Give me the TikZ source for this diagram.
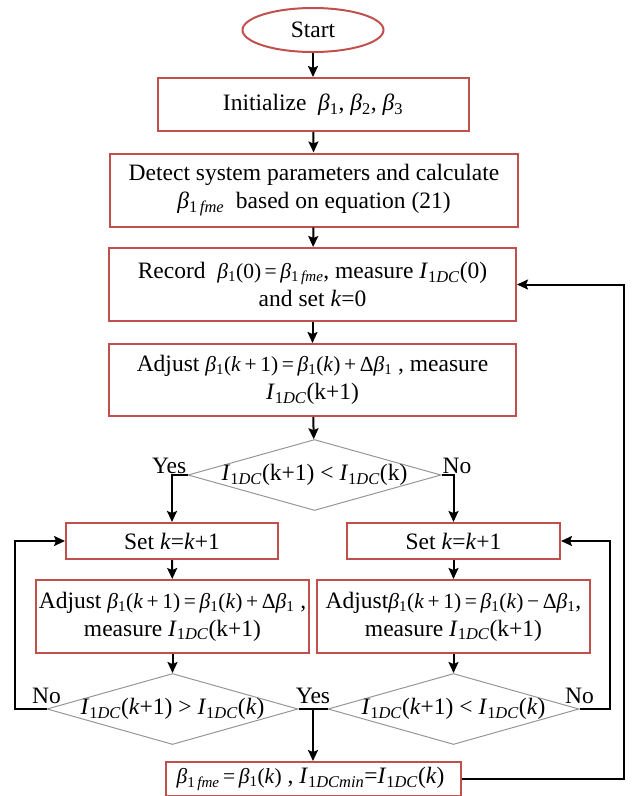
\documentclass[tikz,border=0pt]{standalone}
\usepackage{fontspec}
\setmainfont{Liberation Serif}
\usepackage{xcolor}
\usepackage{tikz}
\definecolor{boxred}{RGB}{192, 80, 77}
\definecolor{diagray}{RGB}{150, 150, 150}
\usetikzlibrary{shapes,arrows.meta,positioning,calc}
\newcommand{\bt}[1]{\textit{β}\textsubscript{#1}}
\newcommand{\btf}{\textit{β}\textsubscript{1\,\textit{fme}}}
\newcommand{\Idc}{\textit{I}\textsubscript{1\textit{DC}}}
\newcommand{\fm}[1]{{\fontsize{21.5}{24}\selectfont #1}}

\begin{document}
\begin{tikzpicture}[
    x=1pt, y=-1pt,
    font=\fontsize{23.5}{28}\selectfont,
    stepbox/.style={
        rectangle,
        draw=boxred,
        line width=2pt,
        align=center,
        inner sep=0pt
    },
    decide/.style={
        diamond,
        draw=diagray,
        line width=1pt,
        inner sep=0pt
    },
    arrow/.style={-{Stealth[length=11pt,width=10pt,inset=2pt]},line width=2pt,black},
    line/.style={line width=2pt,black}
]
    \useasboundingbox (0,0) rectangle (633,796);

    % Main column
    \node[ellipse, draw=boxred, line width=2pt, minimum width=141pt, minimum height=44pt, inner sep=0pt] (start) at (313,30) {Start};
    \node[stepbox, minimum width=311pt, minimum height=53pt] (init) at (313,104.5) {Initialize ~\bt{1}, \bt{2}, \bt{3}};
    \node[stepbox, minimum width=408pt, minimum height=73pt] (detect) at (314,190) {
        Detect system parameters and calculate\\
        \btf{} ~based on equation (21)
    };
    \node[stepbox, minimum width=407pt, minimum height=73pt] (record) at (312.5,284.5) {
        Record ~\fm{\bt{1}(0)\,=\,\btf}, measure \Idc(0)\\
        and set \textit{k}=0
    };
    \node[stepbox, minimum width=407pt, minimum height=72pt] (adjust) at (312.5,380) {
        Adjust \fm{\bt{1}(\textit{k}\,+\,1)\,=\,\bt{1}(\textit{k})\,+\,Δ\bt{1}} , measure\\
        \Idc(k+1)
    };
    \node[decide, minimum width=253pt, minimum height=71pt] (dec1) at (314.5,475) {\makebox[0pt]{\Idc(k+1) < \Idc(k)}};

    % Two branches
    \node[stepbox, minimum width=212pt, minimum height=36pt] (setL) at (172,541) {Set \textit{k}=\textit{k}+1};
    \node[stepbox, minimum width=213pt, minimum height=36pt] (setR) at (453.5,541) {Set \textit{k}=\textit{k}+1};
    \node[stepbox, minimum width=273pt, minimum height=73pt] (adjL) at (172.5,616.5) {
        Adjust \fm{\bt{1}(\textit{k}\,+\,1)\,=\,\bt{1}(\textit{k})\,+\,Δ\bt{1}} ,\\
        measure \Idc(k+1)
    };
    \node[stepbox, minimum width=273pt, minimum height=73pt] (adjR) at (453.5,616.5) {
        Adjust\fm{\bt{1}(\textit{k}\,+\,1)\,=\,\bt{1}(\textit{k})\,−\,Δ\bt{1}},\\
        measure \Idc(k+1)
    };
    \node[decide, minimum width=251pt, minimum height=71pt] (decL) at (172.5,709) {\makebox[0pt]{\Idc(\textit{k}+1) > \Idc(\textit{k})}};
    \node[decide, minimum width=251pt, minimum height=71pt] (decR) at (453.5,709) {\makebox[0pt]{\Idc(\textit{k}+1) < \Idc(\textit{k})}};
    \node[stepbox, minimum width=295pt, minimum height=34pt] (final) at (313.5,779) {
        \fm{\btf{}\,=\,\bt{1}(\textit{k})} , \textit{I}\textsubscript{1\textit{DCmin}}=\Idc(\textit{k})
    };

    \coordinate (yesmid) at ($(decL.east)!0.5!(decR.west)$);

    % Arrows
    \draw[arrow] (start) -- (init);
    \draw[arrow] (init) -- (detect);
    \draw[arrow] (detect) -- (record);
    \draw[arrow] (record) -- (adjust);
    \draw[arrow] (adjust) -- (dec1);
    \draw[arrow] (dec1.west) -| (setL.north);
    \draw[arrow] (dec1.east) -| (setR.north);
    \draw[arrow] (setL) -- (adjL);
    \draw[arrow] (setR) -- (adjR);
    \draw[arrow] (adjL.south -| decL.north) -- (decL.north);
    \draw[arrow] (adjR.south -| decR.north) -- (decR.north);
    \draw[arrow] (decL.west) -- ++(-32,0) |- (setL.west);
    \draw[arrow] (decR.east) -- ++(30,0) |- (setR.east);
    \draw[line] (decL.east) -- (decR.west);
    \draw[arrow] (yesmid) -- (yesmid |- final.north);
    \draw[arrow] (final.east) -- ++(162,0) |- (record.east);

    % Labels
    \node[anchor=south east, inner sep=1pt] (yes1) at (dec1.west) {Yes};
    \node[anchor=south west, inner sep=1pt] (no1) at (dec1.east) {No};
    \node[above=4pt of decL.west, inner sep=1pt] (no2) {No};
    \node[above=4pt of decR.east, inner sep=1pt] (no3) {No};
    \node[above=4pt of yesmid, inner sep=1pt] (yes2) {Yes};
\end{tikzpicture}
\end{document}
